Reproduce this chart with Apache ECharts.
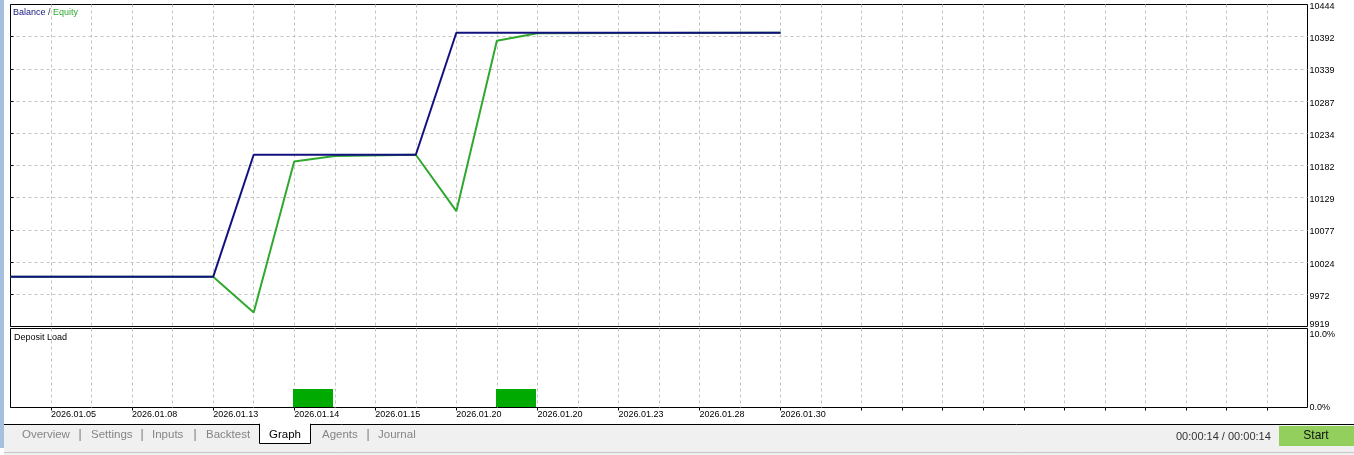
<!DOCTYPE html>
<html>
<head>
<meta charset="utf-8">
<script src="https://cdn.jsdelivr.net/npm/echarts@6/dist/echarts.min.js"></script>
<style>
html,body{margin:0;padding:0;background:#fff;}
#c{width:1354px;height:455px;}
</style>
</head>
<body>
<div id="c"></div>
<script>
// ---- data ----
const balanceIdx = [0, 5, 6, 10, 11, 19];
const balanceVal = [10000, 10000, 10199, 10199, 10398, 10398];
const equityIdx = [0, 5, 6, 7, 8, 10, 11, 12, 13, 19];
const equityVal = [10000, 10000, 9942, 10188, 10197, 10199, 10107, 10385, 10397, 10398];
const depositFrom = [7, 12];
const depositTo = [8, 13];
const depositLoad = [2.4, 2.4];
const xTickPos = [1, 3, 5, 7, 9, 11, 13, 15, 17, 19];
const xTickLabels = ['2026.01.05', '2026.01.08', '2026.01.13', '2026.01.14', '2026.01.15',
                     '2026.01.20', '2026.01.20', '2026.01.23', '2026.01.28', '2026.01.30'];
const xExtraTicks = [21, 22, 23, 24, 25, 26, 27, 28, 29, 30, 31];
const yTickLabels = ['9919', '9972', '10024', '10077', '10129', '10182', '10234', '10287', '10339', '10392', '10444'];
const loadTickLabels = ['0.0%', '10.0%'];
const tabLabels = ['Overview', 'Settings', 'Inputs', 'Backtest', 'Graph', 'Agents', 'Journal'];

const FONT = "'Liberation Sans', Arial, sans-serif";
const gridDash = { color: '#c4c4c4', type: [3, 3], width: 1 };
const splitCfg = { show: true, showMinLine: false, showMaxLine: false, lineStyle: gridDash };

const chart = echarts.init(document.getElementById('c'), null, { renderer: 'canvas' });

const tabX = [22, 91, 152, 206, 269, 322, 378];
const sepX = [80, 142, 195, 368];

const graphics = [
  { type: 'rect', shape: { x: 0, y: 0, width: 4, height: 448 }, style: { fill: '#a7bfdc' }, silent: true },
  { type: 'rect', shape: { x: 4, y: 424, width: 1350, height: 31 }, style: { fill: '#f0f0f0' }, silent: true },
  { type: 'line', shape: { x1: 4, y1: 424.5, x2: 1354, y2: 424.5 }, style: { stroke: '#000', lineWidth: 1 }, silent: true },
  { type: 'line', shape: { x1: 4, y1: 452.5, x2: 1354, y2: 452.5 }, style: { stroke: '#c8c8c8', lineWidth: 1 }, silent: true },
  { type: 'rect', shape: { x: 259.5, y: 424, width: 51, height: 19.5 }, style: { fill: '#fff', stroke: '#000', lineWidth: 1 }, silent: true },
  { type: 'rect', shape: { x: 260, y: 423, width: 50, height: 3 }, style: { fill: '#fff' }, silent: true },
  { type: 'rect', shape: { x: 1279, y: 426, width: 75, height: 20 }, style: { fill: '#92cf5c' }, silent: true },
  { type: 'text', style: { text: 'Start', x: 1316, y: 436, align: 'center', verticalAlign: 'middle', font: '12px ' + FONT, fill: '#111' }, silent: true },
  { type: 'text', style: { text: '00:00:14 / 00:00:14', x: 1176, y: 436.5, verticalAlign: 'middle', font: '11px ' + FONT, fill: '#333' }, silent: true },
  { type: 'text', style: { text: 'Deposit Load', x: 14, y: 337.5, verticalAlign: 'middle', font: '9px ' + FONT, fill: '#000' }, silent: true },
  { type: 'text', style: {
      text: '{b|Balance} {s|/} {e|Equity}', x: 13, y: 12.5, verticalAlign: 'middle',
      font: '9px ' + FONT,
      rich: {
        b: { fill: '#15157f', font: '9px ' + FONT },
        s: { fill: '#333', font: '9px ' + FONT },
        e: { fill: '#2faa2f', font: '9px ' + FONT }
      }
    }, silent: true }
];
tabLabels.forEach((t, i) => {
  graphics.push({ type: 'text', style: { text: t, x: tabX[i], y: 434.5, verticalAlign: 'middle',
    font: '11.5px ' + FONT, fill: t === 'Graph' ? '#000' : '#858585' }, silent: true });
});
sepX.forEach(x => {
  graphics.push({ type: 'text', style: { text: '|', x: x, y: 434.5, align: 'center', verticalAlign: 'middle',
    font: '12px ' + FONT, fill: '#777' }, silent: true });
});

const option = {
  animation: false,
  backgroundColor: '#fff',
  textStyle: { fontFamily: FONT },
  grid: [
    { left: 10.5, right: 46.5, top: 4.5, height: 322, show: true, borderColor: '#000', borderWidth: 1, backgroundColor: 'transparent', containLabel: false },
    { left: 10.5, right: 46.5, top: 328.5, height: 79, show: true, borderColor: '#000', borderWidth: 1, backgroundColor: 'transparent', containLabel: false }
  ],
  xAxis: [
    { type: 'value', gridIndex: 0, min: 0, max: 32, interval: 1,
      axisLine: { show: false }, axisTick: { show: false }, axisLabel: { show: false },
      splitLine: splitCfg },
    { type: 'value', gridIndex: 1, min: 0, max: 32, interval: 1,
      axisLine: { show: false }, axisTick: { show: false }, axisLabel: { show: false },
      splitLine: splitCfg },
    { type: 'value', gridIndex: 1, position: 'bottom', min: 0, max: 32, interval: 1,
      axisLine: { show: false },
      axisTick: { show: true, length: 3, lineStyle: { color: '#000' }, customValues: xTickPos.concat(xExtraTicks) },
      axisLabel: { show: true, customValues: xTickPos, align: 'left', verticalAlign: 'top', margin: 3,
        fontSize: 9, color: '#000', fontFamily: FONT,
        formatter: v => { const k = xTickPos.indexOf(Math.round(v)); return k >= 0 ? xTickLabels[k] : ''; } },
      splitLine: { show: false } }
  ],
  yAxis: [
    { type: 'value', gridIndex: 0, position: 'right', min: 9919, max: 10444, interval: 52.5,
      axisLine: { show: false },
      axisTick: { show: true, length: 3, lineStyle: { color: '#000' } },
      axisLabel: { show: true, margin: 2, color: '#000', fontSize: 9, fontFamily: FONT,
        formatter: (v, i) => (i === 0 ? '{b|' : '{a|') + yTickLabels[i] + '}',
        rich: {
          a: { fontSize: 9, fontFamily: FONT, color: '#000', padding: [4, 0, 0, 0] },
          b: { fontSize: 9, fontFamily: FONT, color: '#000', padding: [0, 0, 3, 0] }
        } },
      splitLine: splitCfg },
    { type: 'value', gridIndex: 1, position: 'right', min: 0, max: 10, interval: 10,
      axisLine: { show: false },
      axisTick: { show: true, length: 3, lineStyle: { color: '#000' } },
      axisLabel: { show: true, margin: 2, color: '#000', fontSize: 9, fontFamily: FONT,
        formatter: (v, i) => (i === 1 ? '{t|' : '{a|') + loadTickLabels[i] + '}',
        rich: {
          a: { fontSize: 9, fontFamily: FONT, color: '#000', padding: [0, 0, 0, 0] },
          t: { fontSize: 9, fontFamily: FONT, color: '#000', padding: [13, 0, 0, 0] }
        } },
      splitLine: { show: false } }
  ],
  series: [
    { name: 'Equity', type: 'line', xAxisIndex: 0, yAxisIndex: 0, symbol: 'none',
      lineStyle: { color: '#30a830', width: 2 }, itemStyle: { color: '#30a830' },
      data: equityIdx.map((x, i) => [x, equityVal[i]]), z: 3 },
    { name: 'Balance', type: 'line', xAxisIndex: 0, yAxisIndex: 0, symbol: 'none',
      lineStyle: { color: '#12127e', width: 2 }, itemStyle: { color: '#12127e' },
      data: balanceIdx.map((x, i) => [x, balanceVal[i]]), z: 4 },
    { name: 'Deposit Load', type: 'custom', xAxisIndex: 1, yAxisIndex: 1,
      encode: { x: [0, 1], y: 2 },
      data: depositFrom.map((f, i) => [f, depositTo[i], depositLoad[i]]),
      renderItem: (params, api) => {
        const p0 = api.coord([api.value(0), api.value(2)]);
        const p1 = api.coord([api.value(1), 0]);
        return { type: 'rect',
          shape: { x: Math.round(p0[0]) - 1, y: Math.round(p0[1]), width: Math.round(p1[0] - p0[0]) - 1, height: Math.round(p1[1] - p0[1]) - 1 },
          style: { fill: '#00aa00' } };
      } }
  ],
  graphic: graphics
};
chart.setOption(option);
</script>
</body>
</html>
